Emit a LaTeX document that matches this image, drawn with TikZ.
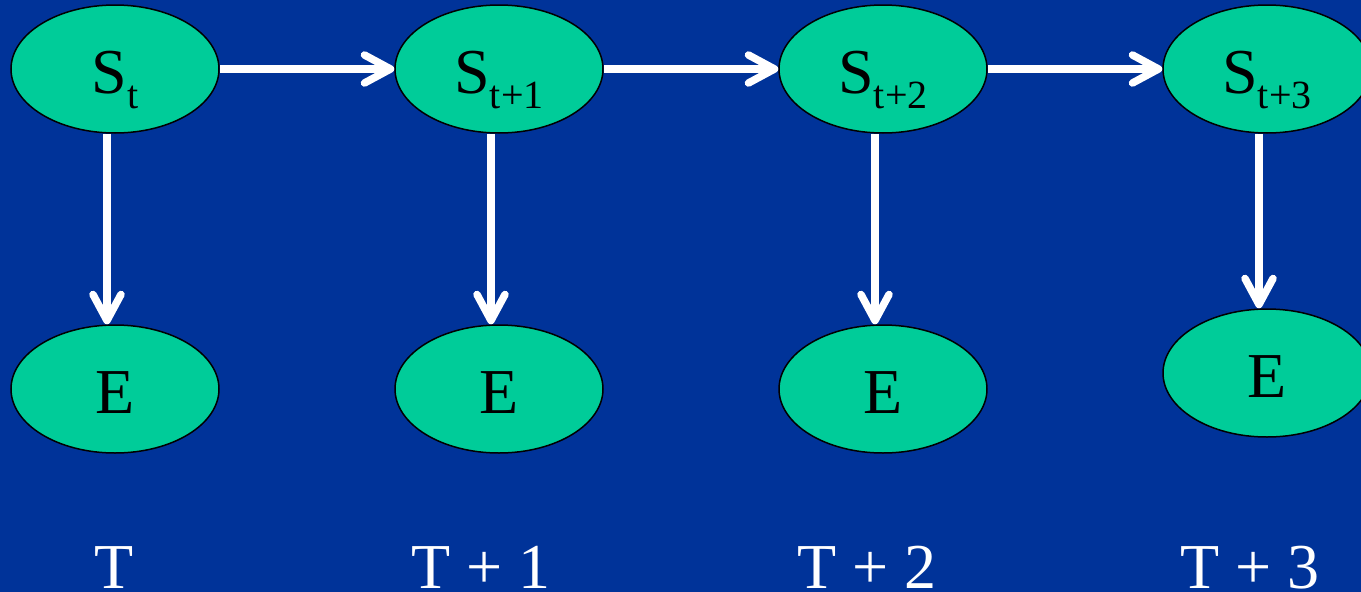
\documentclass[tikz,border=0pt]{standalone}
\usepackage{fontspec}
\setmainfont{Liberation Serif}
\usetikzlibrary{arrows.meta,shapes.geometric}
\definecolor{bgblue}{HTML}{003399}
\definecolor{nodegreen}{HTML}{00CC99}
\newcommand{\bigtxt}{\fontsize{64}{64}\selectfont}
\newcommand{\subtxt}[1]{\raisebox{-15pt}{\fontsize{40}{40}\selectfont #1}}
\tikzset{
  state/.style={ellipse, draw=black, line width=1.5pt, fill=nodegreen,
    minimum width=208pt, minimum height=128pt, inner sep=0pt,
    text height=48pt, text depth=0pt, font=\bigtxt},
  timelabel/.style={anchor=base, text=white, font=\bigtxt, inner sep=0pt},
  link/.style={draw=white, line width=7.5pt,
    -{Straight Barb[length=26pt,width=28pt,round]}}
}
\begin{document}
\begin{tikzpicture}[x=1pt,y=-1pt]
\useasboundingbox (0,0) rectangle (1361,592);
\clip (0,0) rectangle (1361,592);
\fill[bgblue] (0,0) rectangle (1361,592);
% state nodes
\node[state] (S1) at (115,69) {S\subtxt{t}};
\node[state] (S2) at (499,69) {S\subtxt{t+1}};
\node[state] (S3) at (883,69) {S\subtxt{t+2}};
\node[state] (S4) at (1267,69) {S\subtxt{t+3}};
% evidence nodes
\node[state] (E1) at (115,389) {E};
\node[state] (E2) at (499,389) {E};
\node[state] (E3) at (883,389) {E};
\node[state] (E4) at (1267,373) {E};
% time labels
\node[timelabel] (L1) at (114,588) {T};
\node[timelabel] (L2) at (481,588) {T + 1};
\node[timelabel] (L3) at (867,588) {T + 2};
\node[timelabel] (L4) at (1250,588) {T + 3};
% horizontal links
\draw[link] (S1.east) -- (S2.west);
\draw[link] (S2.east) -- (S3.west);
\draw[link] (S3.east) -- (S4.west);
% vertical links
\draw[link] ([xshift=-8pt]S1.south) -- ([xshift=-8pt]E1.north);
\draw[link] ([xshift=-8pt]S2.south) -- ([xshift=-8pt]E2.north);
\draw[link] ([xshift=-8pt]S3.south) -- ([xshift=-8pt]E3.north);
\draw[link] ([xshift=-8pt]S4.south) -- ([xshift=-8pt]E4.north);
\end{tikzpicture}
\end{document}
